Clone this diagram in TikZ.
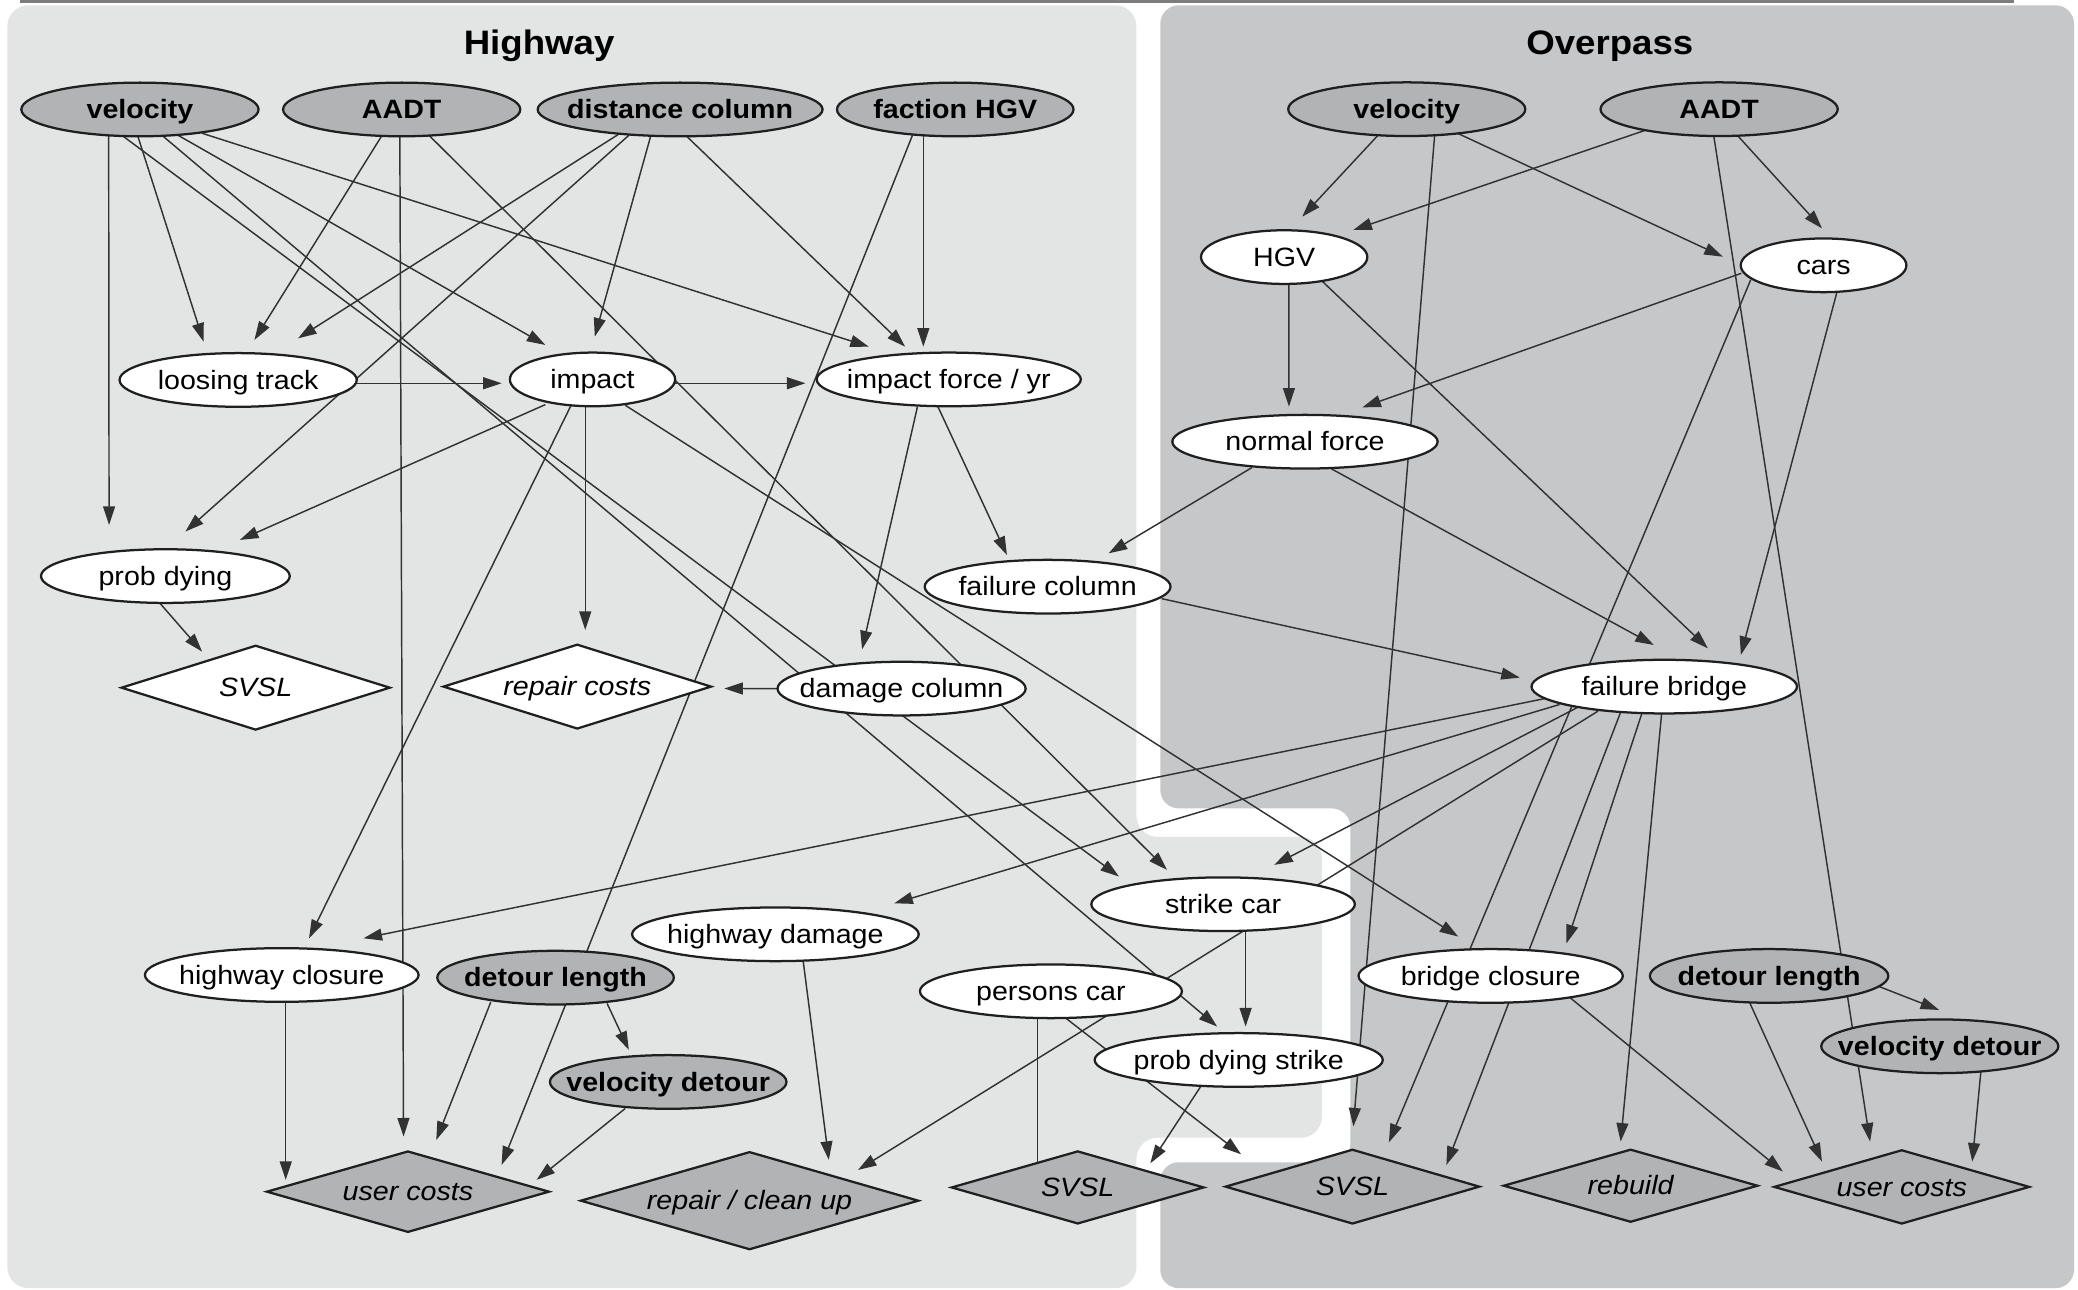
\documentclass[tikz,border=0pt]{standalone}
\usepackage{fontspec}
\setmainfont{Liberation Sans}[FakeStretch=1.08]
\usetikzlibrary{shapes.geometric,arrows.meta}
\definecolor{hwbg}{RGB}{227,228,228}
\definecolor{opbg}{RGB}{198,199,201}
\definecolor{ngray}{RGB}{178,179,181}
\definecolor{edgec}{RGB}{50,50,50}
\definecolor{topline}{RGB}{125,125,125}
\pgfdeclarelayer{bg}
\pgfdeclarelayer{edges}
\pgfsetlayers{bg,edges,main}
\newcommand{\zt}[1]{\makebox[0pt]{#1}}
\tikzset{
  nd/.style={ellipse, draw=black!88, line width=1.7pt, inner sep=0pt, text height=14pt, text depth=0pt, minimum height=40.5pt, font=\fontsize{20pt}{22pt}\selectfont},
  wov/.style={nd, fill=white},
  gov/.style={nd, fill=ngray, font=\fontsize{20pt}{22pt}\selectfont\bfseries},
  dia/.style={diamond, draw=black!88, line width=1.7pt, inner sep=0pt, text height=14pt, text depth=0pt, font=\fontsize{20pt}{22pt}\selectfont\itshape},
  wdia/.style={dia, fill=white},
  gdia/.style={dia, fill=ngray},
  arr/.style={draw=edgec, line width=1.1pt, -{Triangle[length=14pt,width=9pt]}},
  lnk/.style={draw=edgec, line width=1.1pt},
  ttl/.style={font=\fontsize{25.6pt}{28pt}\selectfont\bfseries, anchor=base, inner sep=0pt}
}
\begin{document}
\begin{tikzpicture}[x=1pt,y=-1pt]
\useasboundingbox (0,0) rectangle (1568,973);
\begin{pgfonlayer}{bg}
  \fill[white] (0,0) rectangle (1568,973);
  \fill[topline] (15,0) rectangle (1520,2.2);
  \fill[hwbg, rounded corners=16pt] (5.5,4) -- (857.5,4) -- (857.5,631.5) -- (997.5,631.5) -- (997.5,858.5) -- (857.5,858.5) -- (857.5,972) -- (5.5,972) -- cycle;
  \fill[opbg, rounded corners=14pt] (875.5,4) -- (1565,4) -- (1565,972) -- (875.5,972) -- (875.5,877) -- (1019,877) -- (1019,610) -- (875.5,610) -- cycle;
\end{pgfonlayer}

\node[ttl] (t1) at (406.8,41.5) {Highway};
\node[ttl] (t2) at (1214.7,41.5) {Overpass};

% Highway nodes
\node[gov, minimum width=179pt] (hv) at (105.6,82.6) {\zt{velocity}};
\node[gov, minimum width=179pt] (ha) at (303.1,82.6) {\zt{AADT}};
\node[gov, minimum width=215pt] (hd) at (513.2,82.6) {\zt{distance column}};
\node[gov, minimum width=178.5pt] (hf) at (720.8,82.6) {\zt{faction HGV}};
\node[wov, minimum width=179pt] (lt) at (179.7,286.7) {\zt{loosing track}};
\node[wov, minimum width=124.7pt] (imp) at (447.1,286.3) {\zt{impact}};
\node[wov, minimum width=199.3pt] (ifr) at (715.9,286.3) {\zt{impact force / yr}};
\node[wov, minimum width=187.7pt] (pd) at (124.8,434.7) {\zt{prob dying}};
\node[wdia, minimum width=203pt, minimum height=64pt] (svA) at (192.9,518.9) {\zt{SVSL}};
\node[wdia, minimum width=202.5pt, minimum height=64pt] (rc) at (435.6,518.1) {\zt{repair costs}};
\node[wov, minimum width=187.2pt] (dmc) at (680.3,519.6) {\zt{damage column}};
\node[wov, minimum width=185.5pt] (fc) at (790.5,442.7) {\zt{failure column}};
\node[wov, minimum width=206.5pt] (hcl) at (212.6,735.7) {\zt{highway closure}};
\node[gov, minimum width=178.5pt] (hdl) at (419.2,737.7) {\zt{detour length}};
\node[wov, minimum width=216.3pt] (hdm) at (585.1,705) {\zt{highway damage}};
\node[gov, minimum width=178.5pt] (hvd) at (504.2,816.4) {\zt{velocity detour}};
\node[gdia, minimum width=213.5pt, minimum height=61.4pt] (huc) at (307.8,899.2) {\zt{user costs}};
\node[gdia, minimum width=255.3pt, minimum height=74pt] (rcu) at (565.6,906) {\zt{repair / clean up}};
\node[wov, minimum width=197.7pt] (pc) at (793,748) {\zt{persons car}};
\node[wov, minimum width=198.9pt] (sc) at (922.9,682.3) {\zt{strike car}};
\node[wov, minimum width=217.4pt] (pds) at (934.7,799.8) {\zt{prob dying strike}};
\node[gdia, minimum width=190.8pt, minimum height=55.1pt] (svB) at (813.2,896) {\zt{SVSL}};

% Overpass nodes
\node[gov, minimum width=178.9pt] (ov) at (1061.5,82.4) {\zt{velocity}};
\node[gov, minimum width=179pt] (oa) at (1297.2,82.4) {\zt{AADT}};
\node[wov, minimum width=125.5pt] (hgv) at (969,194) {\zt{HGV}};
\node[wov, minimum width=125pt] (cars) at (1376,200.2) {\zt{cars}};
\node[wov, minimum width=200.2pt] (nf) at (984.7,333.3) {\zt{normal force}};
\node[wov, minimum width=200.3pt] (fb) at (1255.8,518.1) {\zt{failure bridge}};
\node[wov, minimum width=199.4pt] (bcl) at (1124.8,736.4) {\zt{bridge closure}};
\node[gov, minimum width=179.9pt] (odl) at (1334.9,736.4) {\zt{detour length}};
\node[gov, minimum width=178.9pt] (ovd) at (1463.7,789.5) {\zt{velocity detour}};
\node[gdia, minimum width=192.1pt, minimum height=56.4pt] (svC) at (1020.5,895.4) {\zt{SVSL}};
\node[gdia, minimum width=192.1pt, minimum height=55.1pt] (rb) at (1230.4,894.7) {\zt{rebuild}};
\node[gdia, minimum width=193pt, minimum height=56pt] (ouc) at (1435,895.6) {\zt{user costs}};

\begin{pgfonlayer}{edges}
% highway
\draw[arr] ([shift={(-23.6,19.5)}]hv.center) -- ([shift={(-42.5,-38.6)}]pd.center);
\draw[arr] ([shift={(-1.5,20.5)}]hv.center) -- ([shift={(-26.1,-28.9)}]lt.center);
\draw[arr] ([shift={(28.8,19.5)}]hv.center) -- ([shift={(-35.6,-26)}]imp.center);
\draw[arr] ([shift={(47,18)}]hv.center) -- ([shift={(-60.3,-24.7)}]ifr.center);
\draw[arr] ([shift={(-12.3,20.5)}]hv.center) -- ([shift={(-78.6,-20.9)}]sc.center);
\draw[arr] ([shift={(17.8,20.5)}]hv.center) -- ([shift={(-16.3,-25.2)}]pds.center);
\draw[arr] ([shift={(-15.1,20)}]ha.center) -- ([shift={(12.3,-30.2)}]lt.center);
\draw[arr] ([shift={(-1.4,20.5)}]ha.center) -- ([shift={(-3.3,-41.6)}]huc.center);
\draw[arr] ([shift={(20.6,19.5)}]ha.center) -- ([shift={(-42.3,-25.9)}]sc.center);
\draw[arr] ([shift={(-46.9,19)}]hd.center) -- ([shift={(45.2,-31.4)}]lt.center);
\draw[arr] ([shift={(-38.7,19.5)}]hd.center) -- ([shift={(15.1,-33.6)}]pd.center);
\draw[arr] ([shift={(-22.2,20)}]hd.center) -- ([shift={(1.7,-32.3)}]imp.center);
\draw[arr] ([shift={(5.2,20.5)}]hd.center) -- ([shift={(-32.9,-24.7)}]ifr.center);
\draw[arr] ([shift={(-24.1,20)}]hf.center) -- ([shift={(-19.2,-24.7)}]ifr.center);
\draw[arr] ([shift={(-32.3,19.5)}]hf.center) -- ([shift={(70.7,-20.2)}]huc.center);
\draw[arr] ([shift={(89,2.5)}]lt.center) -- ([shift={(-68.6,2.9)}]imp.center);
\draw[arr] ([shift={(62,2.9)}]imp.center) -- ([shift={(-108.1,2.9)}]ifr.center);
\draw[arr] ([shift={(-35.6,19)}]imp.center) -- ([shift={(56.2,-27.3)}]pd.center);
\draw[arr] ([shift={(-5.5,20.5)}]imp.center) -- ([shift={(6,-42.8)}]rc.center);
\draw[arr] ([shift={(-16.4,20)}]imp.center) -- ([shift={(20.6,-27.7)}]hcl.center);
\draw[arr] ([shift={(24.7,19.5)}]imp.center) -- ([shift={(-24.5,-29.7)}]bcl.center);
\draw[arr] ([shift={(-23.6,20.5)}]ifr.center) -- ([shift={(-29.8,-29.6)}]dmc.center);
\draw[arr] ([shift={(-8.2,20.5)}]ifr.center) -- ([shift={(-30.7,-23.9)}]fc.center);
\draw[arr] ([shift={(-4.1,20.5)}]pd.center) -- ([shift={(-40.4,-27.2)}]svA.center);
\draw[arr] ([shift={(-92,0)}]dmc.center) -- ([shift={(110.9,1.4)}]rc.center);
\draw[arr] ([shift={(86,9)}]fc.center) -- ([shift={(-109,-6.8)}]fb.center);
\draw[arr] ([shift={(3,20.5)}]hcl.center) -- ([shift={(-92.2,-8.9)}]huc.center);
\draw[arr] ([shift={(-48.9,18.5)}]hdl.center) -- ([shift={(21.4,-39)}]huc.center);
\draw[arr] ([shift={(38.9,19.5)}]hdl.center) -- ([shift={(-29.7,-24.2)}]hvd.center);
\draw[arr] ([shift={(-32.4,20)}]hvd.center) -- ([shift={(97.1,-8.9)}]huc.center);
\draw[arr] ([shift={(21,20.5)}]hdm.center) -- ([shift={(59.8,-30.8)}]rcu.center);
\draw[lnk] ([shift={(-10.1,20.5)}]pc.center) -- ([shift={(-30.3,-19.4)}]svB.center);
\draw[arr] ([shift={(11.5,20.5)}]pc.center) -- ([shift={(-84,-24.4)}]svC.center);
\draw[arr] ([shift={(17,20.5)}]sc.center) -- ([shift={(5.2,-25.2)}]pds.center);
\draw[arr] ([shift={(-29,20.5)}]pds.center) -- ([shift={(54.8,-18.2)}]svB.center);
% overpass
\draw[arr] ([shift={(-22,20)}]ov.center) -- ([shift={(13.6,-30.5)}]hgv.center);
\draw[arr] ([shift={(39,18.5)}]ov.center) -- ([shift={(-76,-6.5)}]cars.center);
\draw[arr] ([shift={(21,20)}]ov.center) -- ([shift={(0.7,-45.4)}]svC.center);
\draw[arr] ([shift={(-56,16)}]oa.center) -- ([shift={(52.2,-20.5)}]hgv.center);
\draw[arr] ([shift={(14,20)}]oa.center) -- ([shift={(-1.2,-27.9)}]cars.center);
\draw[arr] ([shift={(-4,20.5)}]oa.center) -- ([shift={(-23.9,-34.2)}]ouc.center);
\draw[arr] ([shift={(3.6,20.5)}]hgv.center) -- ([shift={(-12.1,-26.5)}]nf.center);
\draw[arr] ([shift={(29,18.5)}]hgv.center) -- ([shift={(32.9,-28.9)}]fb.center);
\draw[arr] ([shift={(-62,6)}]cars.center) -- ([shift={(43.3,-25.9)}]nf.center);
\draw[arr] ([shift={(10,20.5)}]cars.center) -- ([shift={(57.8,-23.9)}]fb.center);
\draw[arr] ([shift={(-55,11)}]cars.center) -- ([shift={(27.5,-33.4)}]svC.center);
\draw[arr] ([shift={(-40,19.5)}]nf.center) -- ([shift={(46.1,-25.2)}]fc.center);
\draw[arr] ([shift={(20,20.5)}]nf.center) -- ([shift={(-7.9,-31.4)}]fb.center);
\draw[arr] ([shift={(-90,9)}]fb.center) -- ([shift={(61.7,-27.7)}]hcl.center);
\draw[arr] ([shift={(-79,13.5)}]fb.center) -- ([shift={(89.7,-23.4)}]hdm.center);
\draw[arr] ([shift={(-66,16)}]fb.center) -- ([shift={(38.6,-29.7)}]sc.center);
\draw[arr] ([shift={(-50,18.5)}]fb.center) -- ([shift={(81.8,-23.2)}]rcu.center);
\draw[arr] ([shift={(-33,19.5)}]fb.center) -- ([shift={(70.9,-16.4)}]svC.center);
\draw[arr] ([shift={(-17,20.5)}]fb.center) -- ([shift={(57.2,-24.6)}]bcl.center);
\draw[arr] ([shift={(-2,20.5)}]fb.center) -- ([shift={(-7.5,-33.3)}]rb.center);
\draw[arr] ([shift={(60,16.5)}]bcl.center) -- ([shift={(-89.7,-11.6)}]ouc.center);
\draw[arr] ([shift={(83,8)}]odl.center) -- ([shift={(-0.5,-27.4)}]ovd.center);
\draw[arr] ([shift={(-14.5,20.5)}]odl.center) -- ([shift={(-60.2,-19.1)}]ouc.center);
\draw[arr] ([shift={(31,19)}]ovd.center) -- ([shift={(53.2,-19.1)}]ouc.center);
\end{pgfonlayer}
\end{tikzpicture}
\end{document}
